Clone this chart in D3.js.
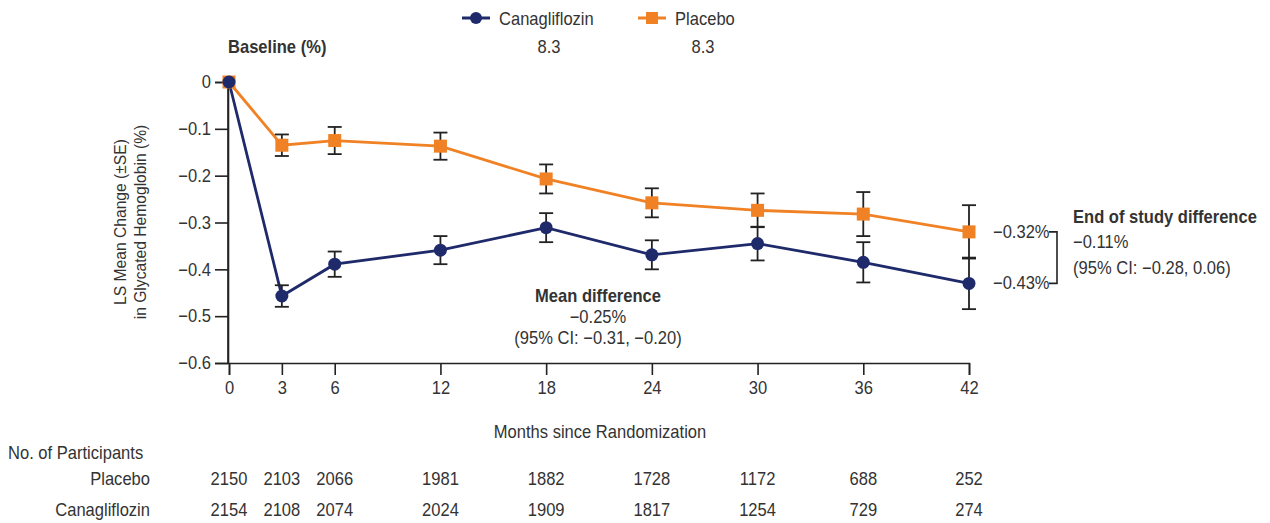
<!DOCTYPE html>
<html>
<head>
<meta charset="utf-8">
<script src="https://cdn.jsdelivr.net/npm/d3@7"></script>
<style>
  html, body { margin: 0; padding: 0; background: #fff; }
  svg { display: block; }
  text { font-family: "Liberation Sans", Arial, sans-serif; fill: #333; }
</style>
</head>
<body>
<svg id="chart" width="1270" height="523"></svg>
<script>
// Months since randomization
const months = [0, 3, 6, 12, 18, 24, 30, 36, 42];
// LS mean change in HbA1c (%) and standard errors
const canaMean = [0, -0.457, -0.389, -0.359, -0.311, -0.369, -0.345, -0.385, -0.43];
const canaSE   = [0, 0.023, 0.027, 0.030, 0.031, 0.031, 0.036, 0.043, 0.055];
const placMean = [0, -0.135, -0.125, -0.137, -0.207, -0.258, -0.274, -0.282, -0.32];
const placSE   = [0, 0.023, 0.029, 0.029, 0.031, 0.031, 0.036, 0.047, 0.057];
// Participants at risk
const placN = [2150, 2103, 2066, 1981, 1882, 1728, 1172, 688, 252];
const canaN = [2154, 2108, 2074, 2024, 1909, 1817, 1254, 729, 274];
const yTicks = [0, -0.1, -0.2, -0.3, -0.4, -0.5, -0.6];

const navy = "#1f2a6b";
const orange = "#f08225";
const ink = "#222";
const FS = 18;      // base font size
const SX = 0.92;    // horizontal condensing of the text

const svg = d3.select("#chart");
const x = d3.scaleLinear().domain([0, 42]).range([229, 969]);
const y = d3.scaleLinear().domain([-0.6, 0]).range([363, 82]);

const fmt = v => v === 0 ? "0" : d3.format(".1f")(v).replace("-", "\u2212");

// Condensed text helper
function label(parent, px, py, str, opt = {}) {
  return parent.append("text")
    .attr("transform", `translate(${px},${py}) scale(${SX},1)`)
    .attr("text-anchor", opt.anchor || "start")
    .attr("font-weight", opt.bold ? "bold" : "normal")
    .attr("font-size", opt.size || FS)
    .text(str);
}

// Y axis
const yAxis = svg.append("g").attr("transform", "translate(228,0)")
  .call(d3.axisLeft(y).tickValues(yTicks).tickFormat(fmt).tickSize(13).tickPadding(4));
// X axis
const xAxis = svg.append("g").attr("transform", "translate(0,363)")
  .call(d3.axisBottom(x).tickValues(months).tickSize(12).tickPadding(6));
[yAxis, xAxis].forEach(a => {
  a.select(".domain").attr("stroke", ink).attr("stroke-width", 1.6);
  a.selectAll(".tick line").attr("stroke", ink).attr("stroke-width", 1.6);
  a.selectAll(".tick text").each(function () {
    const t = d3.select(this);
    const tx = +t.attr("x") || 0;
    t.attr("x", tx / SX).attr("transform", `scale(${SX},1)`)
      .attr("font-size", FS).attr("fill", "#333")
      .style("font-family", '"Liberation Sans", Arial, sans-serif');
  });
});
svg.append("line").attr("x1", 228).attr("x2", 228).attr("y1", 82).attr("y2", 363)
  .attr("stroke", ink).attr("stroke-width", 1.6);

// Y axis title
const yt = svg.append("text")
  .attr("transform", `translate(129,222) rotate(-90) scale(${SX},1)`)
  .attr("text-anchor", "middle").attr("font-size", 17);
yt.append("tspan").attr("x", 0).attr("dy", -3).text("LS Mean Change (\u00b1SE)");
yt.append("tspan").attr("x", 0).attr("dy", 20).text("in Glycated Hemoglobin (%)");

// X axis title
label(svg, 600, 438, "Months since Randomization", { anchor: "middle" });

const line = d3.line().x(d => x(d.m)).y(d => y(d.v));
function series(means, ses) {
  return months.map((m, i) => ({ m, v: means[i], se: ses[i] }));
}
const plac = series(placMean, placSE);
const cana = series(canaMean, canaSE);

function drawSeries(data, color) {
  svg.append("path").datum(data).attr("d", line)
    .attr("fill", "none").attr("stroke", color).attr("stroke-width", 2.8);
}
function drawErrors(data) {
  const g = svg.append("g").attr("stroke", ink).attr("stroke-width", 1.8);
  data.filter(d => d.se > 0).forEach(d => {
    const cx = x(d.m), y1 = y(d.v + d.se), y2 = y(d.v - d.se);
    g.append("line").attr("x1", cx).attr("x2", cx).attr("y1", y1).attr("y2", y2);
    g.append("line").attr("x1", cx - 7).attr("x2", cx + 7).attr("y1", y1).attr("y2", y1);
    g.append("line").attr("x1", cx - 7).attr("x2", cx + 7).attr("y1", y2).attr("y2", y2);
  });
}

drawSeries(plac, orange);
drawSeries(cana, navy);
drawErrors(plac);
drawErrors(cana);

svg.append("g").selectAll("rect").data(plac).join("rect")
  .attr("x", d => x(d.m) - 6.5).attr("y", d => y(d.v) - 6.5)
  .attr("width", 13).attr("height", 13).attr("fill", orange);
svg.append("g").selectAll("circle").data(cana).join("circle")
  .attr("cx", d => x(d.m)).attr("cy", d => y(d.v)).attr("r", 6.5).attr("fill", navy);

// Legend
const lg = svg.append("g");
lg.append("line").attr("x1", 462).attr("x2", 490).attr("y1", 18).attr("y2", 18)
  .attr("stroke", navy).attr("stroke-width", 3);
lg.append("circle").attr("cx", 476).attr("cy", 18).attr("r", 6).attr("fill", navy);
label(lg, 499, 25, "Canagliflozin");
lg.append("line").attr("x1", 638).attr("x2", 666).attr("y1", 18).attr("y2", 18)
  .attr("stroke", orange).attr("stroke-width", 3);
lg.append("rect").attr("x", 646).attr("y", 12).attr("width", 12).attr("height", 12).attr("fill", orange);
label(lg, 675, 25, "Placebo");

// Baseline row
label(svg, 228, 53, "Baseline (%)", { bold: true });
label(svg, 549, 53, "8.3", { anchor: "middle" });
label(svg, 703, 53, "8.3", { anchor: "middle" });

// Mean difference annotation
label(svg, 598, 302, "Mean difference", { anchor: "middle", bold: true });
label(svg, 598, 323, "\u22120.25%", { anchor: "middle" });
label(svg, 598, 344, "(95% CI: \u22120.31, \u22120.20)", { anchor: "middle" });

// End-of-study labels
const last = months.length - 1;
label(svg, 993, y(placMean[last]) + 6, "\u2212" + Math.abs(placMean[last]).toFixed(2) + "%");
label(svg, 993, y(canaMean[last]) + 6, "\u2212" + Math.abs(canaMean[last]).toFixed(2) + "%");
svg.append("path")
  .attr("d", `M1049,${y(placMean[last])}H1057V${y(canaMean[last])}H1049`)
  .attr("fill", "none").attr("stroke", ink).attr("stroke-width", 1.6);
label(svg, 1073, 223, "End of study difference", { bold: true });
label(svg, 1073, 248, "\u22120.11%");
label(svg, 1073, 274, "(95% CI: \u22120.28, 0.06)");

// Participants at risk table
label(svg, 8, 459, "No. of Participants");
label(svg, 150, 485, "Placebo", { anchor: "end" });
label(svg, 150, 516, "Canagliflozin", { anchor: "end" });
const tbl = svg.append("g");
placN.forEach((n, i) => label(tbl, x(months[i]), 485, String(n), { anchor: "middle" }));
canaN.forEach((n, i) => label(tbl, x(months[i]), 516, String(n), { anchor: "middle" }));
</script>
</body>
</html>
